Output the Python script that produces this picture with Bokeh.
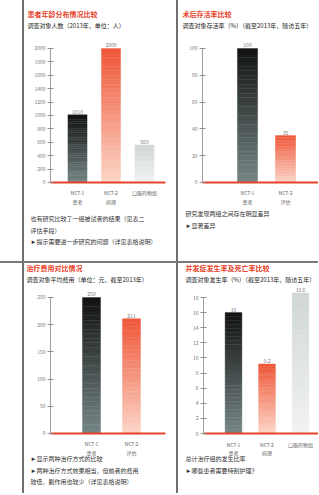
from bokeh.plotting import figure
from bokeh.layouts import column, row
from bokeh.models import Range1d, FixedTicker, Label, Spacer
from bokeh.embed import file_html
from bokeh.resources import INLINE
from bokeh.core.properties import value

FONT = "Noto Sans CJK SC"

# ---- data ----
titles = ["患者年龄分布情况比较", "术后存活率比较", "治疗费用对比情况", "并发症发生率及死亡率比较"]
subtitles = ["调查对象人数（2013年，单位：人）",
             "调查对象存活率（%）（截至2013年，随访五年）",
             "调查对象平均费用（单位：元，截至2013年）",
             "调查对象发生率（%）（截至2013年，随访五年）"]
cats_a = ["NCT-1\n患者", "NCT-2\n病理", "口服药物组"]
cats_b = ["NCT-1\n患者", "NCT-2\n评估"]
vals_1 = [1010, 2000, 560]
vals_2 = [100, 35]
vals_3 = [250, 211]
vals_4 = [16, 9.2, 18.6]
ticks_1 = [0, 200, 400, 600, 800, 1000, 1200, 1400, 1600, 1800, 2000]
ticks_2 = [0, 20, 40, 60, 80, 100]
ticks_3 = [0, 50, 100, 150, 200, 250]
ticks_4 = [0, 2, 4, 6, 8, 10, 12, 14, 16, 18]
notes_1 = ["也有研究比较了一组被试者的结果（见表二",
           "评估手段）",
           "►提示需要进一步研究的问题（详见表格说明）"]
notes_2 = ["研究发现两组之间存在明显差异",
           "►显著差异"]
notes_3 = ["►显示两种治疗方式的比较",
           "►两种治疗方式效果相当，但前者的费用",
           "  较低，副作用也较少（详见表格说明）"]
notes_4 = ["总计治疗组的发生比率",
           "►哪些患者需要特别护理？"]

DARK = ("#121212", "#768686")
ORANGE = ("#ef5637", "#fcd6c8")
LIGHT = ("#d0d5d5", "#f2f4f4")
RED = "#e5432a"


def hex2rgb(h):
    h = h.lstrip("#")
    return tuple(int(h[i:i + 2], 16) for i in (0, 2, 4))


def lerp(c_top, c_bot, t):
    a, b = hex2rgb(c_top), hex2rgb(c_bot)
    return "#%02x%02x%02x" % tuple(int(round(b[i] + (a[i] - b[i]) * t)) for i in range(3))


def grad_bar(p, x, v, w, cols, n=30):
    bottoms = [v * i / n for i in range(n)]
    tops = [v * (i + 1) / n for i in range(n)]
    colors = [lerp(cols[0], cols[1], (i + 0.5) / n) for i in range(n)]
    p.vbar(x=[x] * n, bottom=bottoms, top=tops, width=w,
           fill_color=colors, line_color=colors, line_width=0.4)


def add_label(p, x, y, text, size, color, style="normal"):
    p.add_layout(Label(x=x, y=y, x_units="screen", y_units="screen", text=text,
                       text_font=FONT, text_font_size=size, text_color=color,
                       text_font_style=style, text_baseline="middle",
                       text_align="left"))


def panel(width, height, cats, vals, cols, ticks, xr, yr, yaxis_x, line_end, bar_w,
          title, sub, notes, tx, ty, nx, ny):
    p = figure(width=width, height=height, title=None,
               x_range=Range1d(*xr), y_range=Range1d(*yr),
               output_backend="svg", toolbar_location=None,
               min_border=0, min_border_left=0, min_border_right=0,
               min_border_top=0, min_border_bottom=0)
    p.outline_line_color = None
    p.grid.visible = False
    p.background_fill_color = "white"
    p.border_fill_color = "white"
    xs = list(range(1, len(cats) + 1))
    for x, v, c in zip(xs, vals, cols):
        grad_bar(p, x, v, bar_w, c)
    p.text(x=xs, y=vals, text=[("%g" % v) for v in vals],
           text_font=value(FONT), text_font_size="5px", text_color="#7a7a7a",
           text_align="center", text_baseline="bottom", y_offset=-1)

    xa = p.xaxis[0]
    xa.fixed_location = 0
    xa.bounds = (yaxis_x, line_end)
    xa.ticker = FixedTicker(ticks=xs)
    xa.major_label_overrides = {x: c for x, c in zip(xs, cats)}
    xa.axis_line_color = RED
    xa.axis_line_width = 2
    xa.major_tick_line_color = None
    xa.minor_tick_line_color = None
    xa.major_label_text_font = FONT
    xa.major_label_text_font_size = "5px"
    xa.major_label_text_color = "#666666"
    xa.major_label_standoff = 1

    ya = p.yaxis[0]
    ya.fixed_location = yaxis_x
    ya.bounds = (0, ticks[-1])
    ya.ticker = FixedTicker(ticks=ticks)
    ya.axis_line_color = "#a0a0a0"
    ya.major_tick_line_color = "#909090"
    ya.major_tick_in = 3
    ya.major_tick_out = 3
    ya.minor_tick_line_color = None
    ya.major_label_text_font = FONT
    ya.major_label_text_font_size = "5px"
    ya.major_label_text_color = "#777777"
    ya.major_label_standoff = 2

    add_label(p, tx, ty, title, "7px", RED, "bold")
    add_label(p, tx, ty - 12, sub, "6px", "#222222")
    for i, n in enumerate(notes):
        add_label(p, nx, ny - 11.5 * i, n, "6px", "#333333")
    return p


p1 = panel(152, 261, cats_a, vals_1, [DARK, ORANGE, LIGHT], ticks_1,
           (-0.582, 3.955), (-1179, 2716), 0.194, 3.63, 0.57,
           titles[0], subtitles[0], notes_1, 3, 248, 6, 43)
p2 = panel(140, 261, cats_b, vals_2, [DARK, ORANGE], ticks_2,
           (-0.816, 2.868), (-58.96, 135.8), -0.184, 2.868, 0.53,
           titles[1], subtitles[1], notes_2, 4, 248, 7, 48)
p3 = panel(152, 230, cats_b, vals_3, [DARK, ORANGE], ticks_3,
           (-0.675, 3.125), (-110.3, 312.5), -0.025, 2.85, 0.45,
           titles[2], subtitles[2], notes_3, 2, 226, 6, 35)
p4 = panel(140, 230, cats_a, vals_4, [DARK, ORANGE, LIGHT], ticks_4,
           (-0.642, 3.537), (-7.94, 22.5), 0.104, 3.537, 0.5,
           titles[3], subtitles[3], notes_4, 7, 226, 7, 35)


def vline(h):
    return Spacer(width=2, height=h, styles={"background-color": "#6f6f6f"})


top = row(Spacer(width=22, height=261), vline(261), p1, vline(261), p2, spacing=0)
sep = Spacer(width=318, height=2, styles={"background-color": "#7a7a7a"})
bottom = row(Spacer(width=22, height=230), vline(230), p3, vline(230), p4, spacing=0)
layout = column(top, sep, bottom, spacing=0)

open("out.html", "w").write(file_html(layout, INLINE))
